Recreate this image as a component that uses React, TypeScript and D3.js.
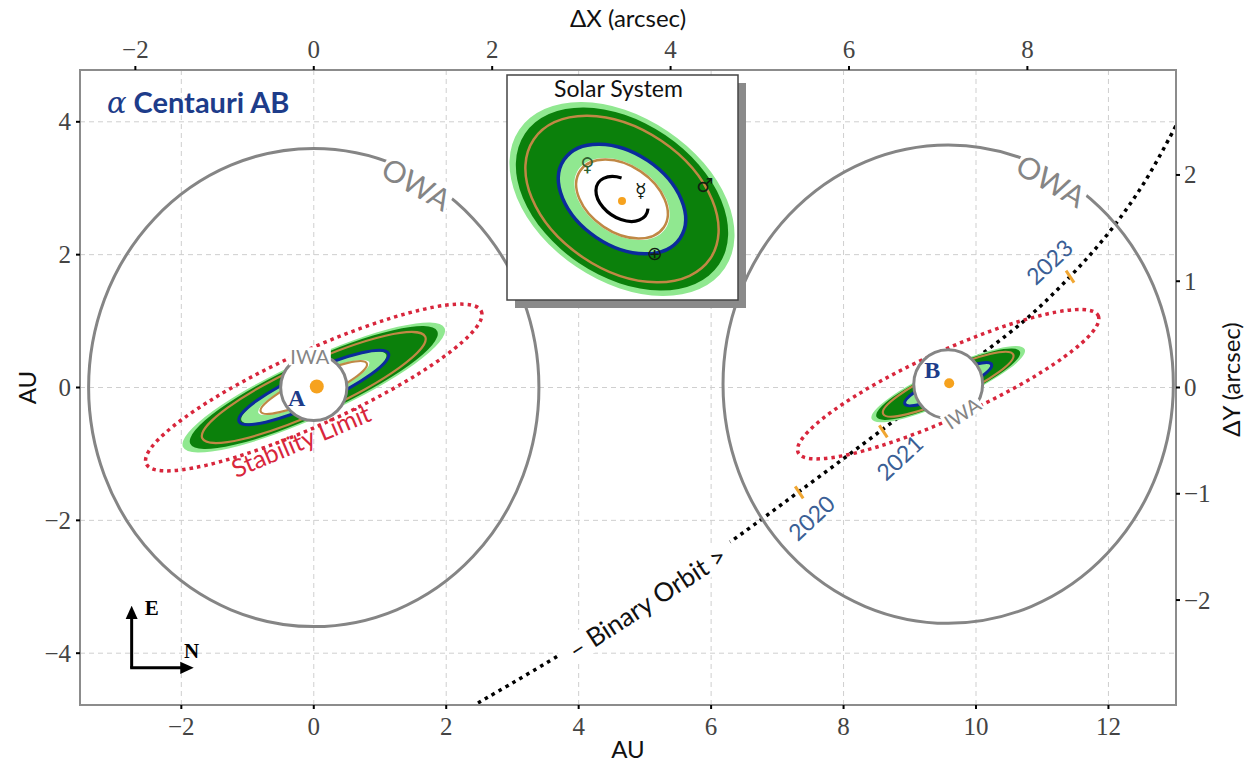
import React from "react";
import * as d3 from "d3";

const W = 1256;
const H = 771;

// axes
const xTicksAU = [-2, 0, 2, 4, 6, 8, 10, 12];
const yTicksAU = [-4, -2, 0, 2, 4];
const xTicksArc = [-2, 0, 2, 4, 6, 8];
const yTicksArc = [-2, -1, 0, 1, 2];
const AU_PER_ARCSEC_X = 1.347;
const AU_PER_ARCSEC_Y = 1.6;

// the two stars (AU)
const starNames = ["A", "B"];
const starX = [0, 9.58];
const starY = [0, 0.05];
const starSize = [7, 5];

// habitable zones, equivalent orbits, limits (AU, semi-major axes)
const hzOuterOpt = [2.17, 1.27];
const hzOuterCons = [2.05, 1.19];
const hzInnerCons = [1.2, 0.7];
const hzInnerOpt = [0.92, 0.54];
const venusEq = [0.88, 0.51];
const earthEq = [1.24, 0.72];
const marsEq = [1.85, 1.08];
const stabilityLimit = [2.78, 2.49];
const owaRadiusX = [3.4, 3.4];
const owaRadiusY = [3.6, 3.6];
const iwaRadius = [0.5, 0.52];
const TILT = 24.5; // deg, orbital plane on sky
const INC = 0.2; // minor / major

// binary orbit, read along the dotted path (AU)
const orbitX = [2.48, 3.72, 5.0, 6.28, 7.31, 8.63, 9.61, 10.71, 11.42, 12.02, 12.55, 13.05];
const orbitY = [-4.75, -4.02, -3.19, -2.33, -1.58, -0.6, 0.15, 0.99, 1.67, 2.35, 3.1, 4.0];

// positions of B on the orbit
const years = ["2020", "2021", "2023"];
const yearX = [7.33, 8.6, 11.42];
const yearY = [-1.58, -0.66, 1.67];
const yearDx = [12, 16, -21];
const yearDy = [25, 26, -15];

// solar system inset
const solarHZ = [0.75, 0.99, 1.67, 1.77];
const planets = ["Mercury", "Venus", "Earth", "Mars"];
const planetA = [0.41, 0.72, 1.0, 1.52];
const planetSymbol = ["☿", "♀", "⊕", "♂"];
const planetPhase = [-68, 197, 35, -55];
const INSET_TILT = 34;
const INSET_INC = 0.66;

const LIGHT = "#90e890";
const DARK = "#0b800b";
const BROWN = "#c08845";
const BLUE = "#0b2a9c";
const GREY = "#858585";
const RED = "#d8263c";
const NAVY = "#1d3c8a";
const SANS = "Lato, 'DejaVu Sans', sans-serif";
const SERIF = "'Liberation Serif', 'DejaVu Serif', serif";

function BoxLabel(props: any) {
  const { x, y, rot, text, size, color, w, h, family, weight } = props;
  return (
    <g transform={`translate(${x},${y}) rotate(${rot})`}>
      <rect x={-w / 2} y={-h / 2} width={w} height={h} fill="white" />
      <text
        textAnchor="middle"
        dominantBaseline="central"
        fontSize={size}
        fill={color}
        fontFamily={family || SANS}
        fontWeight={weight || "normal"}
      >
        {text}
      </text>
    </g>
  );
}

export default function App() {
  const x = d3.scaleLinear().domain([-3.53, 13.02]).range([80, 1176]);
  const y = d3.scaleLinear().domain([-4.78, 4.78]).range([705, 70]);
  const xs = d3
    .scaleLinear()
    .domain(x.domain().map((d) => d / AU_PER_ARCSEC_X))
    .range(x.range());
  const ys = d3
    .scaleLinear()
    .domain(y.domain().map((d) => d / AU_PER_ARCSEC_Y))
    .range(y.range());
  const kx = x(1) - x(0);
  const ky = y(0) - y(1);
  const [L, R] = x.range();
  const [B, T] = y.range();

  const orbit = d3
    .line<number>()
    .x((d) => x(d))
    .y((d, i) => y(orbitY[i]))
    .curve(d3.curveCatmullRom)(orbitX);

  const ell = (i: number, a: number, props: any, key: string) => {
    const cx = x(starX[i]);
    const cy = y(starY[i]);
    return (
      <ellipse
        key={key}
        cx={cx}
        cy={cy}
        rx={a * kx}
        ry={a * INC * ky}
        transform={`rotate(${-TILT} ${cx} ${cy})`}
        {...props}
      />
    );
  };

  // inset geometry
  const box = { x: 507, y: 75, w: 231, h: 225 };
  const ic = { x: 622, y: 199 };
  const s = d3.scaleLinear().domain([0, 1.77]).range([0, 124]);
  const ct = Math.cos((INSET_TILT * Math.PI) / 180);
  const st = Math.sin((INSET_TILT * Math.PI) / 180);
  const project = (a: number, phase: number) => {
    const p = (phase * Math.PI) / 180;
    const u = s(a) * Math.cos(p);
    const v = s(a) * Math.sin(p) * INSET_INC;
    return [ic.x + u * ct - v * st, ic.y + u * st + v * ct];
  };
  const inEll = (a: number, props: any, key: string) => (
    <ellipse
      key={key}
      cx={ic.x}
      cy={ic.y}
      rx={s(a)}
      ry={s(a) * INSET_INC}
      transform={`rotate(${INSET_TILT} ${ic.x} ${ic.y})`}
      {...props}
    />
  );
  const mercuryArc = d3.path();
  mercuryArc.arc(0, 0, s(planetA[0]), (-20 * Math.PI) / 180, (245 * Math.PI) / 180);

  const compassX = x(-2.75);
  const compassY = y(-4.22);

  return (
    <svg
      width={W}
      height={H}
      style={{ position: "absolute", left: 0, top: 0, background: "white" }}
    >
      <defs>
        <clipPath id="frame">
          <rect x={L} y={T} width={R - L} height={B - T} />
        </clipPath>
        <marker id="arrow" viewBox="0 0 10 10" refX="4" refY="5" markerWidth="4.5" markerHeight="4.5" orient="auto">
          <path d="M0,0.5 L10,5 L0,9.5 z" fill="black" />
        </marker>
      </defs>
      <rect width={W} height={H} fill="white" />

      {/* grid */}
      <g stroke="#cfcfcf" strokeDasharray="5 4" strokeWidth={1}>
        {xTicksAU.map((t) => (
          <line key={"gx" + t} x1={x(t)} x2={x(t)} y1={T} y2={B} />
        ))}
        {yTicksAU.map((t) => (
          <line key={"gy" + t} x1={L} x2={R} y1={y(t)} y2={y(t)} />
        ))}
      </g>

      <g clipPath="url(#frame)">
        {/* binary orbit */}
        <path d={orbit || ""} fill="none" stroke="black" strokeWidth={3.5} strokeDasharray="3.5 4.5" />

        {/* habitable zones */}
        {starNames.map((n, i) => (
          <g key={"hz" + n}>
            {ell(i, hzOuterOpt[i], { fill: LIGHT }, "a")}
            {ell(i, hzOuterCons[i], { fill: DARK }, "b")}
            {ell(i, hzInnerCons[i], { fill: LIGHT }, "c")}
            {ell(i, hzInnerOpt[i], { fill: "white" }, "d")}
            {ell(i, marsEq[i], { fill: "none", stroke: BROWN, strokeWidth: 2.2 }, "e")}
            {ell(i, earthEq[i], { fill: "none", stroke: BLUE, strokeWidth: 3 }, "f")}
            {ell(i, venusEq[i], { fill: "none", stroke: BROWN, strokeWidth: 2.2 }, "g")}
            {ell(i, stabilityLimit[i], { fill: "none", stroke: RED, strokeWidth: 3.5, strokeDasharray: "3.5 4" }, "h")}
          </g>
        ))}

        {/* year marks */}
        {years.map((yr, i) => {
          const cx = x(yearX[i]);
          const cy = y(yearY[i]);
          return (
            <g key={yr}>
              <line
                x1={cx - 4}
                y1={cy - 6}
                x2={cx + 4}
                y2={cy + 6}
                stroke="#f0a632"
                strokeWidth={3}
              />
              <text
                transform={`translate(${cx + yearDx[i]},${cy + yearDy[i]}) rotate(-43)`}
                textAnchor="middle"
                dominantBaseline="central"
                fontSize={23}
                fill="#3b5f96"
                fontFamily={SANS}
              >
                {yr}
              </text>
            </g>
          );
        })}

        {/* OWA circles */}
        {starNames.map((n, i) => (
          <ellipse
            key={"owa" + n}
            cx={x(starX[i])}
            cy={y(starY[i])}
            rx={owaRadiusX[i] * kx}
            ry={owaRadiusY[i] * ky}
            fill="none"
            stroke={GREY}
            strokeWidth={3}
          />
        ))}
        {starNames.map((n, i) => {
          const ang = (62 * Math.PI) / 180;
          return (
            <BoxLabel
              key={"owal" + n}
              x={x(starX[i] + (owaRadiusX[i] - 0.08) * Math.cos(ang))}
              y={y(starY[i] + (owaRadiusY[i] - 0.12) * Math.sin(ang))}
              rot={30}
              text="OWA"
              size={30}
              color={GREY}
              w={76}
              h={32}
            />
          );
        })}

        {/* IWA + stars */}
        {starNames.map((n, i) => (
          <g key={"iwa" + n}>
            <circle
              cx={x(starX[i])}
              cy={y(starY[i])}
              r={iwaRadius[i] * kx}
              fill="white"
              stroke={GREY}
              strokeWidth={3}
            />
            <circle cx={x(starX[i]) + (i === 0 ? 3 : 1)} cy={y(starY[i]) - 1} r={starSize[i]} fill="#f6a21e" />
            <text
              x={x(starX[i]) + (i === 0 ? -17 : -16)}
              y={y(starY[i]) + (i === 0 ? 10 : -14)}
              textAnchor="middle"
              dominantBaseline="central"
              fontSize={24}
              fontWeight="bold"
              fill={NAVY}
              fontFamily={SERIF}
            >
              {n}
            </text>
          </g>
        ))}
        <BoxLabel x={x(-0.06)} y={y(0.47)} rot={0} text="IWA" size={20} color={GREY} w={42} h={18} />
        <BoxLabel x={x(9.79)} y={y(-0.38)} rot={-34} text="IWA" size={20} color={GREY} w={42} h={18} />

        <text
          transform={`translate(${x(-0.2)},${y(-0.79)}) rotate(-23)`}
          textAnchor="middle"
          dominantBaseline="central"
          fontSize={25}
          fill={RED}
          fontFamily={SANS}
        >
          Stability Limit
        </text>

        <BoxLabel x={x(5.03)} y={y(-3.23)} rot={-33} text="– Binary Orbit >" size={26} color="#111" w={205} h={28} />
      </g>

      {/* frame */}
      <rect x={L} y={T} width={R - L} height={B - T} fill="none" stroke="#8c8c8c" strokeWidth={2} />

      {/* ticks & labels */}
      <g fontFamily={SERIF} fontSize={25} fill="#444">
        {xTicksAU.map((t) => (
          <g key={"xb" + t}>
            <line x1={x(t)} x2={x(t)} y1={B} y2={B + 4} stroke="black" strokeWidth={2} />
            <text x={x(t)} y={B + 30} textAnchor="middle">
              {t < 0 ? "−" + Math.abs(t) : t}
            </text>
          </g>
        ))}
        {xTicksArc.map((t) => (
          <g key={"xt" + t}>
            <line x1={xs(t)} x2={xs(t)} y1={T} y2={T - 4} stroke="black" strokeWidth={2} />
            <text x={xs(t)} y={T - 12} textAnchor="middle">
              {t < 0 ? "−" + Math.abs(t) : t}
            </text>
          </g>
        ))}
        {yTicksAU.map((t) => (
          <g key={"yl" + t}>
            <line x1={L} x2={L - 4} y1={y(t)} y2={y(t)} stroke="black" strokeWidth={2} />
            <text x={L - 9} y={y(t)} textAnchor="end" dominantBaseline="central">
              {t < 0 ? "−" + Math.abs(t) : t}
            </text>
          </g>
        ))}
        {yTicksArc.map((t) => (
          <g key={"yr" + t}>
            <line x1={R} x2={R + 4} y1={ys(t)} y2={ys(t)} stroke="black" strokeWidth={2} />
            <text x={R + 8} y={ys(t)} textAnchor="start" dominantBaseline="central">
              {t < 0 ? "−" + Math.abs(t) : t}
            </text>
          </g>
        ))}
      </g>

      {/* axis titles */}
      <g fontFamily={SANS} fontSize={24} fill="#111">
        <text x={(L + R) / 2} y={758} textAnchor="middle">AU</text>
        <text x={(L + R) / 2} y={27} textAnchor="middle">ΔX (arcsec)</text>
        <text transform={`translate(36,${y(0)}) rotate(-90)`} textAnchor="middle">AU</text>
        <text transform={`translate(1240,${y(0) - 8}) rotate(-90)`} textAnchor="middle">ΔY (arcsec)</text>
      </g>

      {/* title */}
      <text x={107} y={113} fontSize={29} fill={NAVY}>
        <tspan fontFamily="'DejaVu Serif', serif" fontStyle="italic">α</tspan>
        <tspan dx={7} fontFamily={SANS} fontWeight="bold">Centauri AB</tspan>
      </text>

      {/* compass */}
      <g stroke="black" strokeWidth={3} fill="none">
        <line x1={compassX} y1={compassY} x2={compassX} y2={compassY - 54} markerEnd="url(#arrow)" />
        <line x1={compassX - 1.5} y1={compassY} x2={compassX + 54} y2={compassY} markerEnd="url(#arrow)" />
      </g>
      <text x={compassX + 20} y={compassY - 60} textAnchor="middle" dominantBaseline="central" fontSize={21} fontWeight="bold" fontFamily={SERIF}>E</text>
      <text x={compassX + 60} y={compassY - 17} textAnchor="middle" dominantBaseline="central" fontSize={21} fontWeight="bold" fontFamily={SERIF}>N</text>

      {/* solar system inset */}
      <rect x={box.x + 8} y={box.y + 8} width={box.w} height={box.h} fill="#8a8a8a" />
      <rect x={box.x} y={box.y} width={box.w} height={box.h} fill="white" stroke="#444" strokeWidth={1.5} />
      <text x={box.x + box.w / 2 - 4} y={box.y + 22} textAnchor="middle" fontSize={23} fontFamily={SANS} fill="#111">
        Solar System
      </text>
      {inEll(solarHZ[3], { fill: LIGHT }, "s3")}
      {inEll(solarHZ[2], { fill: DARK }, "s2")}
      {inEll(solarHZ[1], { fill: LIGHT }, "s1")}
      {inEll(solarHZ[0], { fill: "white" }, "s0")}
      {inEll(planetA[3], { fill: "none", stroke: BROWN, strokeWidth: 2.5 }, "pm")}
      {inEll(planetA[2], { fill: "none", stroke: BLUE, strokeWidth: 3.5 }, "pe")}
      {inEll(planetA[1], { fill: "none", stroke: BROWN, strokeWidth: 2.5 }, "pv")}
      <g transform={`translate(${ic.x},${ic.y}) rotate(${INSET_TILT}) scale(1,${INSET_INC})`}>
        <path d={mercuryArc.toString()} fill="none" stroke="black" strokeWidth={3.2} vectorEffect="non-scaling-stroke" />
      </g>
      <circle cx={ic.x} cy={ic.y + 2} r={4} fill="#f6a21e" />
      {planets.map((p, i) => {
        const [px, py] = project(planetA[i], planetPhase[i]);
        return (
          <text
            key={p}
            x={px}
            y={py}
            textAnchor="middle"
            dominantBaseline="central"
            fontSize={19}
            fontFamily="'DejaVu Sans', sans-serif"
            fill={i === 1 ? "#2f5f2f" : "#102010"}
          >
            {planetSymbol[i]}
          </text>
        );
      })}
    </svg>
  );
}
